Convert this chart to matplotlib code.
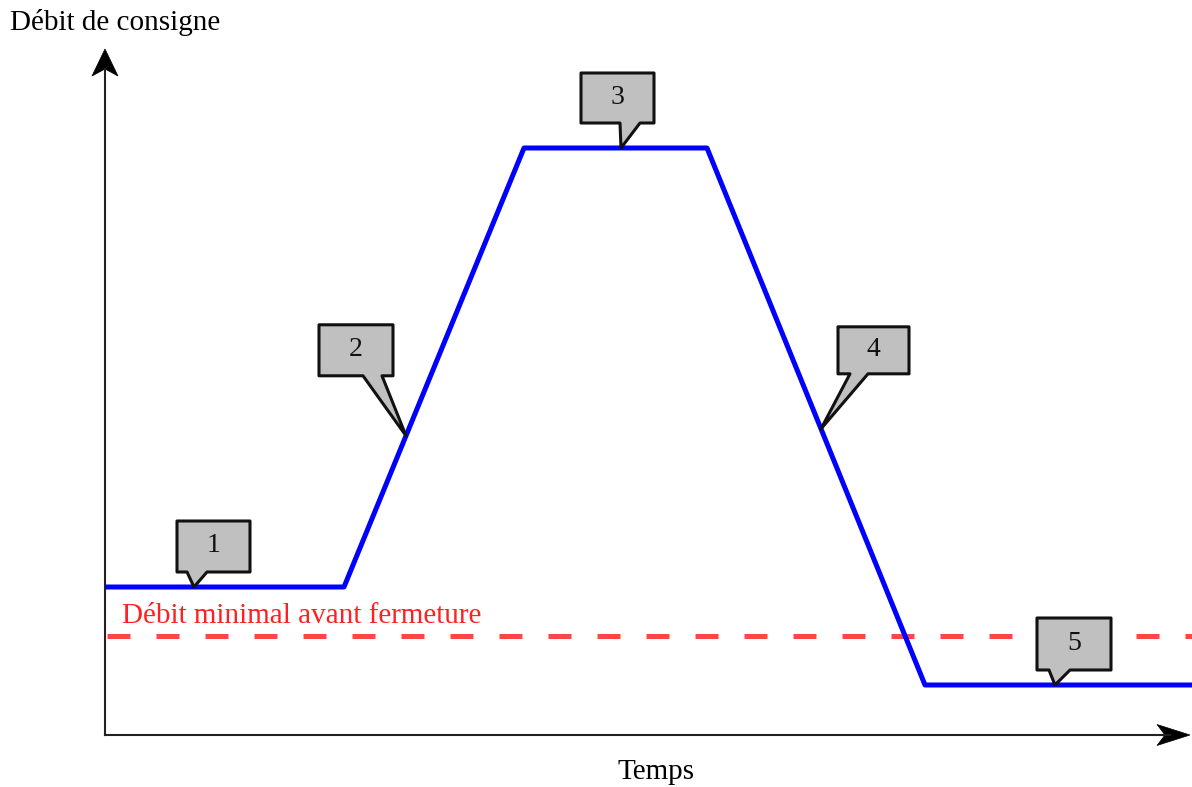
import numpy as np
import matplotlib.pyplot as plt
import matplotlib.transforms as mtransforms
from matplotlib.patches import Polygon

plt.rcParams['font.family'] = ['Liberation Serif', 'DejaVu Serif']

# setpoint flow profile (arbitrary units)
temps = [0.3, 23.9, 41.9, 60.2, 82.0, 108.5]
debit = [14.8, 14.8, 58.7, 58.7, 5.0, 5.0]
debit_min = 9.9
# phase callouts: label and time at which they point on the curve
phase_labels = ['1', '2', '3', '4', '5']
phase_t = [8.9, 30.1, 51.6, 71.6, 95.0]
t_axis_end = 108.5
f_axis_end = 68.6

# callout shapes in pixels relative to the tip: box (x0, x1, y0, y1), pointer base (b0, b1)
callout_geom = [
    ((-17, 56, 15, 66), (-7, 13)),
    ((-87, -13, 60, 111), (-43, -24)),
    ((-40, 33, 25, 75), (-1, 19)),
    ((17, 88, 55, 102), (29, 47)),
    ((-18, 56, 15, 67), (-6, 15)),
]

fig = plt.figure(figsize=(11.92, 7.87), dpi=100)
ax = fig.add_axes([105 / 1192, 52 / 787, 1087 / 1192, 735 / 787])
ax.set_xlim(0, 108.7)
ax.set_ylim(0, 73.5)
ax.axis('off')


def at(x, y):
    # pixel offsets placed at a data point
    return mtransforms.ScaledTranslation(x, y, ax.transData)


# axes with arrows
ax.plot([0, t_axis_end - 2], [0, 0], color='#222222', lw=1.5, clip_on=False)
ax.plot([0, 0], [0, f_axis_end - 2], color='#222222', lw=1.5, clip_on=False)
ax.add_patch(Polygon([(0, 0), (-33, 10.5), (-25, 0), (-33, -10.5)], closed=True,
                     facecolor='black', edgecolor='black', lw=0.5,
                     transform=at(t_axis_end, 0), clip_on=False))
ax.add_patch(Polygon([(0, 0), (-13, -27), (0, -20), (13, -27)], closed=True,
                     facecolor='black', edgecolor='black', lw=0.5,
                     transform=at(0, f_axis_end), clip_on=False))

# minimum flow
ax.plot([0.2, 108.7], [debit_min, debit_min], color='#ff4646', lw=3.6,
        dashes=(4.6, 5.2), solid_capstyle='butt', dash_capstyle='butt', clip_on=False)
ax.text(1.7, debit_min + 2.0, 'Débit minimal avant fermeture', color='#ff2020',
        fontsize=21, va='center', ha='left')

# setpoint curve
ax.plot(temps, debit, color='#0000ff', lw=3.6, solid_joinstyle='round', clip_on=False)

# callouts
for lab, t, (box, base) in zip(phase_labels, phase_t, callout_geom):
    f = np.interp(t, temps, debit)
    x0, x1, y0, y1 = box
    b0, b1 = base
    verts = [(0, 0), (b1, y0), (x1, y0), (x1, y1), (x0, y1), (x0, y0), (b0, y0)]
    tr = at(t, f)
    ax.add_patch(Polygon(verts, closed=True, facecolor='#c0c0c0', edgecolor='#111111',
                         lw=2.2, joinstyle='round', transform=tr, clip_on=False, zorder=5))
    ax.text((x0 + x1) / 2, (y0 + y1) / 2 + 1, lab, transform=tr, fontsize=20,
            ha='center', va='center', color='#111111', zorder=6)

fig.text(10 / 1192, 1 - 22 / 787, 'Débit de consigne', fontsize=21, ha='left', va='center')
fig.text(656 / 1192, 1 - 772 / 787, 'Temps', fontsize=21, ha='center', va='center')

fig.savefig('out.png', dpi=100, facecolor='white')
